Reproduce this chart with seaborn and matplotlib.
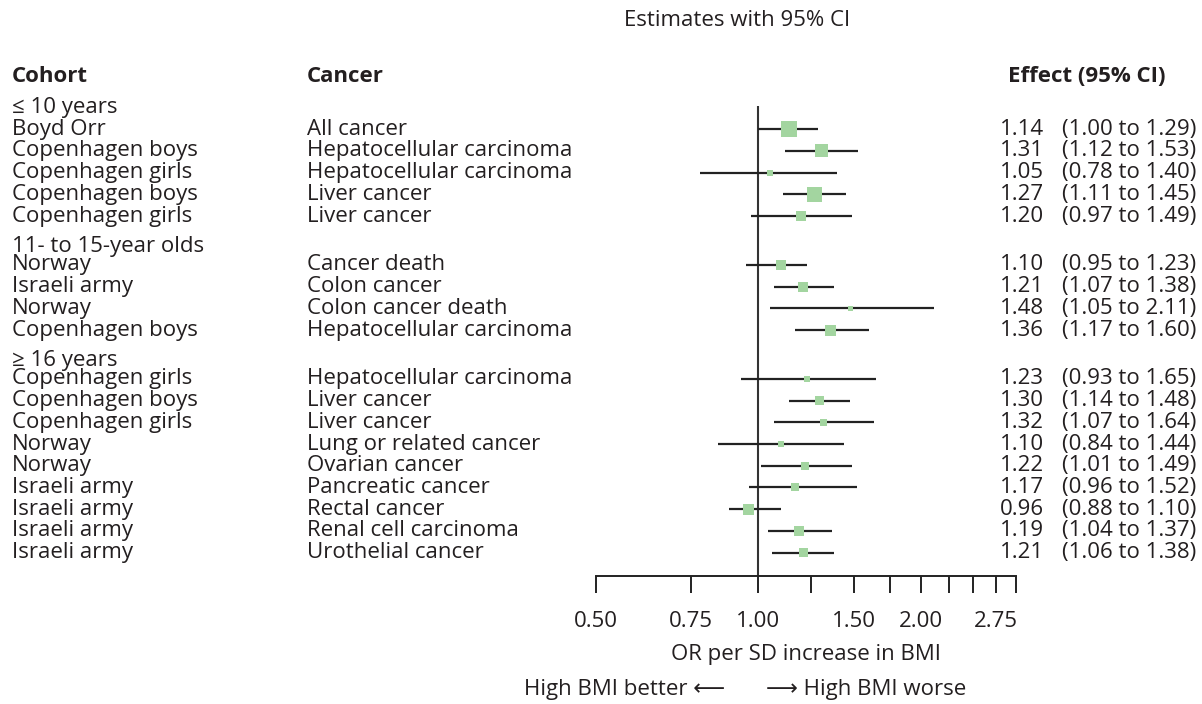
import numpy as np
import pandas as pd
import seaborn as sns
import matplotlib
matplotlib.use("Agg")
import matplotlib.pyplot as plt
import matplotlib.transforms as mtransforms

# ---------------- data ----------------
groups = ["≤ 10 years", "11- to 15-year olds", "≥ 16 years"]
group_sizes = [5, 4, 9]

cohorts = ["Boyd Orr", "Copenhagen boys", "Copenhagen girls", "Copenhagen boys", "Copenhagen girls",
           "Norway", "Israeli army", "Norway", "Copenhagen boys",
           "Copenhagen girls", "Copenhagen boys", "Copenhagen girls", "Norway", "Norway",
           "Israeli army", "Israeli army", "Israeli army", "Israeli army"]
cancers = ["All cancer", "Hepatocellular carcinoma", "Hepatocellular carcinoma", "Liver cancer", "Liver cancer",
           "Cancer death", "Colon cancer", "Colon cancer death", "Hepatocellular carcinoma",
           "Hepatocellular carcinoma", "Liver cancer", "Liver cancer", "Lung or related cancer", "Ovarian cancer",
           "Pancreatic cancer", "Rectal cancer", "Renal cell carcinoma", "Urothelial cancer"]
est = [1.14, 1.31, 1.05, 1.27, 1.20,
       1.10, 1.21, 1.48, 1.36,
       1.23, 1.30, 1.32, 1.10, 1.22, 1.17, 0.96, 1.19, 1.21]
lo = [1.00, 1.12, 0.78, 1.11, 0.97,
      0.95, 1.07, 1.05, 1.17,
      0.93, 1.14, 1.07, 0.84, 1.01, 0.96, 0.88, 1.04, 1.06]
hi = [1.29, 1.53, 1.40, 1.45, 1.49,
      1.23, 1.38, 2.11, 1.60,
      1.65, 1.48, 1.64, 1.44, 1.49, 1.52, 1.10, 1.37, 1.38]
box_px = [16, 13, 6, 15, 10,
          10, 10, 5, 11,
          6, 9, 7, 6, 8, 8, 11, 10, 9]

tick_vals = [0.5, 0.75, 1.0, 1.25, 1.5, 1.75, 2.0, 2.25, 2.5, 2.75, 3.0]
tick_labels = ["0.50", "0.75", "1.00", "", "1.50", "", "2.00", "", "", "2.75", ""]

# ---------------- layout ----------------
W, H = 1202, 704
TXT = "#231f20"
GREEN = "#a3d5a0"

ypos, head_pos = [], []
head_off = [1.0, 0.85, 0.85]
y = 0.0
for n, off in zip(group_sizes, head_off):
    head_pos.append(y - off)
    for i in range(n):
        ypos.append(y)
        y += 1
    y += 1.25

df = pd.DataFrame({"cohort": cohorts, "cancer": cancers, "est": est, "lo": lo, "hi": hi,
                   "y": ypos, "area": [(b * 0.72) ** 2 for b in box_px]})

sns.set_theme(style="white")
plt.rcParams["font.family"] = ["Open Sans", "DejaVu Sans"]
fs = 16

fig = plt.figure(figsize=(W / 100, H / 100), dpi=100)
ax = fig.add_axes([596 / W, 1 - 576 / H, (1016 - 596) / W, (576 - 106) / H])

ax.hlines(df["y"], df["lo"], df["hi"], color="#222222", lw=1.6, zorder=2)
ax.axvline(1.0, color="#333333", lw=1.5, zorder=1)
sns.scatterplot(data=df, x="est", y="y", size="area", sizes=(df["area"].min(), df["area"].max()),
                size_norm=(df["area"].min(), df["area"].max()), marker="s", color=GREEN,
                linewidth=0, legend=False, ax=ax, zorder=3)

ax.set_xscale("log")
ax.set_xlim(0.5, 3.0)
ax.set_ylim(20.58, -1.07)
ax.set_xticks(tick_vals)
ax.set_xticklabels(tick_labels)
ax.xaxis.set_minor_locator(matplotlib.ticker.NullLocator())
ax.tick_params(axis="x", direction="out", length=12, width=1.4, color="#222222",
               pad=13, labelsize=fs, labelcolor=TXT, bottom=True)
ax.set_yticks([])
ax.set_xlabel("OR per SD increase in BMI", fontsize=fs, color=TXT, labelpad=9)
ax.set_ylabel("")
for s in ["top", "left", "right"]:
    ax.spines[s].set_visible(False)
ax.spines["bottom"].set_linewidth(1.4)
ax.spines["bottom"].set_color("#222222")

# ---------------- text columns ----------------
tr = mtransforms.blended_transform_factory(fig.transFigure, ax.transData)
for g, hy in zip(groups, head_pos):
    ax.text(12 / W, hy, g, transform=tr, fontsize=fs, color=TXT, va="center", clip_on=False)
for _, r in df.iterrows():
    ax.text(12 / W, r["y"], r["cohort"], transform=tr, fontsize=fs, color=TXT, va="center", clip_on=False)
    ax.text(307 / W, r["y"], r["cancer"], transform=tr, fontsize=fs, color=TXT, va="center", clip_on=False)
    ax.text(1000 / W, r["y"], f"{r['est']:.2f}", transform=tr, fontsize=fs, color=TXT, va="center", clip_on=False)
    ax.text(1196 / W, r["y"], f"({r['lo']:.2f} to {r['hi']:.2f})", transform=tr, fontsize=fs,
            color=TXT, va="center", ha="right", clip_on=False)

hy = 1 - 76 / H
fig.text(12 / W, hy, "Cohort", fontsize=fs, fontweight="bold", color=TXT, va="center")
fig.text(307 / W, hy, "Cancer", fontsize=fs, fontweight="bold", color=TXT, va="center")
fig.text(1166 / W, hy, "Effect (95% CI)", fontsize=fs, fontweight="bold", color=TXT, va="center", ha="right")
fig.text(737 / W, 1 - 21 / H, "Estimates with 95% CI", fontsize=fs, color=TXT, va="center", ha="center")
fig.text(725 / W, 1 - 690 / H, "High BMI better \u27f5", fontsize=fs, color=TXT, va="center", ha="right")
fig.text(766 / W, 1 - 690 / H, "\u27f6 High BMI worse", fontsize=fs, color=TXT, va="center", ha="left")

fig.savefig("out.png", dpi=100)
